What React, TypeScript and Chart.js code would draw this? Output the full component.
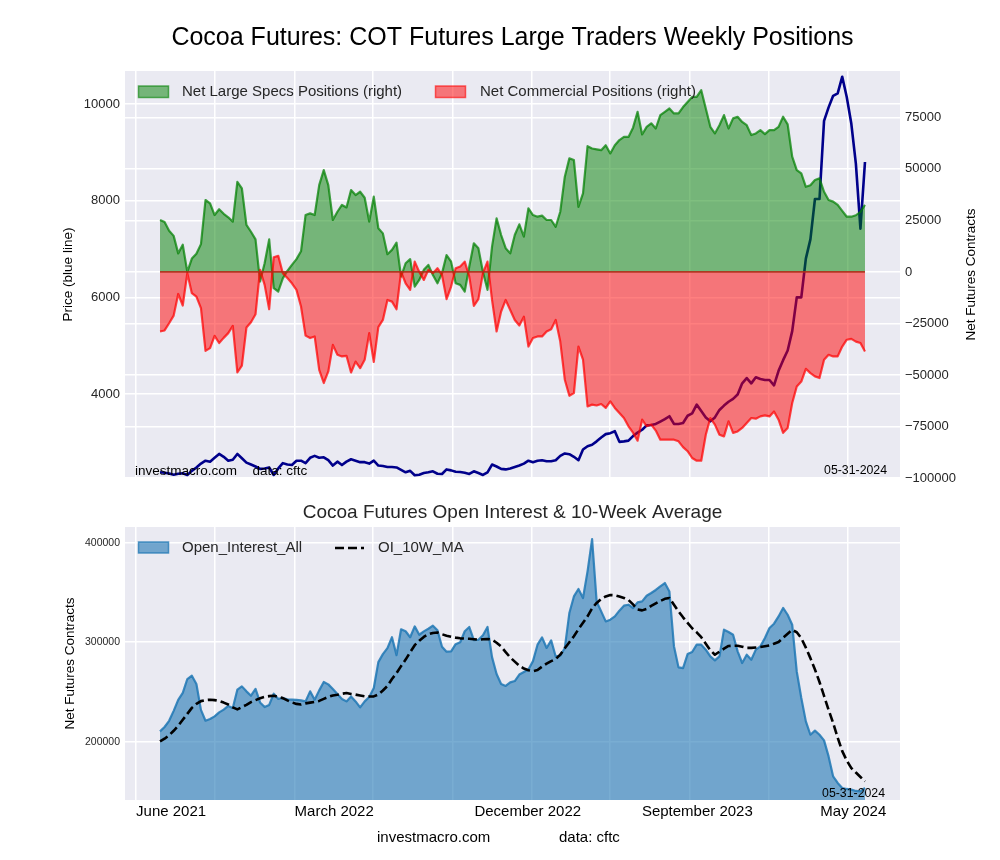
import React, { useEffect, useRef } from "react";
import { Chart, registerables } from "chart.js";

Chart.register(...registerables);

// ---------------- DATA ----------------
const START_DATE = "2021-06-08"; // first weekly report in the window
const REPORT_DATE_LABEL = "05-31-2024";

const LARGE_SPECS = [
  25200, 24200, 20000, 17500, 9000, 13200, 0, 6500, 8800, 13500,
  34900, 33300, 27600, 30400, 28200, 26500, 24400, 43700, 40500, 22800,
  19500, 15800, -4700, 4200, 15800, -7900, -9500, -3100, 500, 3400,
  6200, 10000, 27600, 28400, 27600, 42100, 49400, 42100, 25200, 29200,
  32500, 31300, 39700, 37300, 38900, 36000, 24400, 36500, 21200, 18700,
  8600, 10700, 14200, -2300, 4200, 6200, -7100, -3900, 1000, 3400,
  -1500, -5500, -700, 8200, 5000, -5500, -6300, -9500, 2600,
  13900, 11500, 0, -8700, 12300, 26000, 17900, 11500, 9000, 17900,
  23100, 17100, 30900, 27600, 26800, 27300, 25200, 25200, 21900, 29200,
  46200, 55100, 54300, 31600, 38100, 61000, 59900, 59500, 59100, 61500,
  57500, 61500, 64000, 65500, 65500, 70000, 77700, 66700, 70400, 72100,
  69600, 76100, 77700, 79300, 76900, 76900, 80000, 82500, 84900, 84900,
  88200, 79300, 70400, 67200, 71200, 76100, 69600, 74500, 75300, 72800,
  71200, 66400, 67200, 68800, 66900, 68800, 68800, 70400, 75300, 71600,
  55900, 49400, 47800, 41300, 42100, 44600, 45400, 38900, 34900, 34100,
  32500, 29600, 26800, 26800, 27500, 29200, 32500,
];

const COMMERCIAL = [
  -28900, -28400, -24900, -21200, -10700, -16300, -600, -10300, -12000, -17600,
  -38300, -37000, -31000, -34500, -32000, -29700, -26200, -48800, -45500, -27000,
  -24400, -20500, 1000, -6300, -18100, 7100, 7800, -600, -3000, -5500,
  -8700, -16800, -30900, -32100, -31300, -47500, -53900, -48300, -35400, -40200,
  -41000, -40700, -48800, -43500, -46700, -42600, -29700, -43700, -26800, -23300,
  -13600, -14400, -18100, 0, -5500, -8700, 5000, 0, -3900, 1000,
  -600, 1800, -1500, -13200, -7100, 1800, 2600, 5000, -2300,
  -16500, -13200, -600, 5000, -13600, -28900, -19200, -13600, -18500, -23300,
  -26000, -21700, -36200, -32100, -31300, -31300, -28900, -27800, -23300, -33800,
  -52300, -60100, -58800, -36200, -42600, -65300, -64400, -64800, -64100, -66000,
  -62800, -66000, -68500, -70900, -74900, -78000, -81900, -71700, -74900, -74100,
  -77000, -81400, -81400, -81400, -81400, -82200, -85000, -87000, -90300, -91600,
  -91600, -79000, -70900, -74100, -79000, -79800, -72500, -78100, -77400, -75700,
  -73300, -70900, -71200, -70100, -69600, -70100, -67700, -71700, -78100, -75700,
  -63600, -55600, -53200, -47000, -49100, -50700, -51500, -42600, -40200, -41000,
  -41000, -36200, -32900, -32500, -33800, -34500, -38600,
];

const PRICE = [
  2380, 2370, 2355, 2330, 2350, 2360, 2325, 2410, 2480, 2560,
  2620, 2600, 2680, 2760, 2700, 2620, 2640, 2760, 2670, 2580,
  2540, 2500, 2450, 2460, 2480, 2325, 2460, 2570, 2540, 2530,
  2620, 2620, 2570, 2680, 2720, 2680, 2690, 2630, 2520, 2600,
  2530, 2600, 2650, 2620, 2590, 2590, 2560, 2620, 2520, 2510,
  2490, 2490, 2480, 2430, 2380, 2410, 2320, 2330, 2365, 2380,
  2400, 2350, 2345, 2440, 2420, 2390, 2385, 2370, 2345,
  2400, 2365, 2325, 2380, 2540, 2500, 2450, 2440, 2460, 2490,
  2520, 2560, 2620, 2590, 2620, 2630, 2610, 2610, 2630, 2720,
  2770, 2755, 2700, 2630, 2850, 2920, 2950, 3020, 3100, 3170,
  3190, 3230, 3010, 3020, 3035, 3130, 3200, 3260, 3350, 3360,
  3380, 3430, 3480, 3540, 3380, 3380, 3400, 3550, 3600, 3780,
  3650, 3515, 3435, 3515, 3670, 3760, 3840, 3900, 3990, 4220,
  4330, 4220, 4345, 4310, 4290, 4290, 4180, 4480, 4700, 4900,
  5300, 6000, 6000, 6800, 7200, 8035, 8035, 9650, 9930, 10170,
  10220, 10565, 10140, 9590, 8760, 7420, 8800,
];

const OPEN_INTEREST = [
  210400, 214800, 221000, 231000, 242000, 249000, 263000, 266300, 258000, 232000,
  221100, 222800, 225500, 229500, 232300, 236000, 233900, 252300, 255600, 250600,
  246200, 253000, 239500, 234800, 237000, 248200, 243000, 243900, 242500, 242200,
  242000, 241500, 240500, 250600, 242200, 251600, 260000, 257600, 253000, 248000,
  243000, 240500, 245500, 240500, 234500, 240500, 245000, 254000, 280000, 288000,
  294000, 305000, 287000, 313000, 311000, 305000, 315900, 307500, 310900, 313500,
  316600, 312000, 295500, 290500, 290800, 298000, 300000, 311000, 315300,
  302000, 302500, 307000, 315300, 285000, 268000, 258000, 256000, 259600, 261000,
  267500, 270000, 272500, 281000, 297500, 304800, 294200, 301800, 285700, 286400,
  294200, 329300, 346000, 353500, 344400, 371200, 403700, 341000, 331000, 320900,
  322600, 325900, 331700, 336700, 337700, 334400, 340000, 341000, 346700, 349500,
  352500, 356000, 359500, 351000, 296000, 274700, 274000, 288100, 290200, 297500,
  297500, 292500, 285700, 281700, 285700, 312600, 310300, 307500, 290800, 279100,
  287400, 282400, 292500, 295800, 304200, 314300, 318600, 325900, 334400, 327600,
  317600, 270600, 243900, 220400, 207000, 211100, 207000, 201300, 185200, 165100,
  158500, 153500, 152500, 151800, 150500, 150000, 153500,
];

const OI_10W_MA = [
  200300, 203000, 206500, 211000, 216000, 222000, 228000, 234000, 238000, 240800,
  241800, 242200, 241800, 240800, 239300, 237400, 234500, 232500, 234800, 237000,
  239800, 241800, 243700, 245000, 245800, 246200, 245000, 243800, 241500, 239500,
  238000, 237400, 238500, 239300, 240000, 241000, 243000, 245000, 246500, 247200,
  248200, 248900, 248000, 247300, 246400, 245600, 245500, 245500, 247500, 251500,
  256000, 263000, 269000, 276000, 282500, 290000, 297000, 301500, 305300, 308000,
  309300, 309700, 308000, 306500, 305500, 304600, 303900, 303600, 303500,
  303000, 302500, 303000, 303300, 302600, 299500, 295700, 290000, 284700, 280500,
  276400, 273500, 271800, 270900, 272000, 275500, 278500, 281000, 283000, 287500,
  294000, 300000, 306000, 313000, 319500, 326000, 334000, 339500, 343500, 346000,
  347500, 347200, 346000, 344500, 342500, 338000, 333000, 332000, 333500, 336500,
  339000, 341500, 343600, 344400, 337700, 331000, 325000, 319500, 314000, 310000,
  305000, 298500, 292000, 287400, 290500, 293500, 296200, 296500, 296500, 295500,
  294300, 294300, 294700, 295200, 296000, 296800, 298500, 300200, 304500, 308500,
  312300, 310000, 304000, 294500, 284000, 272500, 260000, 246000, 232000, 218800,
  204000, 190500, 181000, 173500, 169000, 164500, 160100,
];

const PRICE_TICKS = [4000, 6000, 8000, 10000];
const NET_TICKS = [-100000, -75000, -50000, -25000, 0, 25000, 50000, 75000];
const OI_TICKS = [200000, 300000, 400000];
const X_GRID_DATES = [
  "2021-05-01", "2021-09-01", "2022-01-01", "2022-05-01", "2022-09-01",
  "2023-01-01", "2023-05-01", "2023-09-01", "2024-01-01", "2024-05-01",
];
const X_LABEL_DATES = ["2021-06-25", "2022-03-03", "2022-12-26", "2023-09-13", "2024-05-10"];
const X_LABELS = ["June 2021", "March 2022", "December 2022", "September 2023", "May 2024"];

// ---------------- STYLE / LAYOUT ----------------
const FONT = "'Liberation Sans', Arial, Helvetica, sans-serif";
const TEXT = "#262626";
const FACE = "#EAEAF2";
const GRID_W = 1.5;
const X_MIN = -7.7;
const X_MAX = 162.7;

const WEEK_MS = 7 * 24 * 3600 * 1000;
const weekIndex = (d: string) => (Date.parse(d) - Date.parse(START_DATE)) / WEEK_MS;
const X_GRID = X_GRID_DATES.map(weekIndex);
const X_LABEL_POS = X_LABEL_DATES.map(weekIndex);
const pts = (arr: number[]) => arr.map((y, i) => ({ x: i, y }));
const fmt = (v: number) => (v < 0 ? "\u2212" + Math.abs(v) : String(v));

const bgPlugin = {
  id: "bgFace",
  beforeDraw(chart: any) {
    const { ctx, chartArea: a, width, height } = chart;
    ctx.save();
    ctx.fillStyle = "#ffffff";
    ctx.fillRect(0, 0, width, height);
    ctx.fillStyle = FACE;
    ctx.fillRect(a.left, a.top, a.right - a.left, a.bottom - a.top);
    ctx.restore();
  },
};

type Item =
  | { kind: "text"; text: string; x: number; y: number; size: number; align?: CanvasTextAlign; rotate?: number; color?: string }
  | { kind: "patch"; x: number; y: number; w: number; h: number; fill: string; stroke: string }
  | { kind: "dash"; x1: number; x2: number; y: number; color: string; width: number; dash: number[] };

function overlay(items: Item[]) {
  return {
    id: "overlayTexts",
    afterDraw(chart: any) {
      const ctx: CanvasRenderingContext2D = chart.ctx;
      for (const it of items) {
        ctx.save();
        if (it.kind === "text") {
          ctx.font = `${it.size}px ${FONT}`;
          ctx.fillStyle = it.color || TEXT;
          ctx.textAlign = it.align || "left";
          ctx.textBaseline = "middle";
          ctx.translate(it.x, it.y);
          if (it.rotate) ctx.rotate(it.rotate);
          ctx.fillText(it.text, 0, 0);
        } else if (it.kind === "patch") {
          ctx.fillStyle = it.fill;
          ctx.fillRect(it.x, it.y, it.w, it.h);
          ctx.strokeStyle = it.stroke;
          ctx.lineWidth = 1.5;
          ctx.strokeRect(it.x, it.y, it.w, it.h);
        } else {
          ctx.strokeStyle = it.color;
          ctx.lineWidth = it.width;
          ctx.setLineDash(it.dash);
          ctx.beginPath();
          ctx.moveTo(it.x1, it.y);
          ctx.lineTo(it.x2, it.y);
          ctx.stroke();
        }
        ctx.restore();
      }
    },
  };
}

const gridOpts = { color: "#ffffff", lineWidth: GRID_W, drawTicks: false };
const tickFont = (size: number) => ({ family: FONT, size });

function topConfig(): any {
  const n = LARGE_SPECS.length;
  return {
    type: "line",
    data: {
      datasets: [
        {
          label: "zero",
          data: [{ x: 0, y: 0 }, { x: n - 1, y: 0 }],
          yAxisID: "yNet",
          borderColor: "rgba(175,45,25,0.9)",
          borderWidth: 1.8,
          pointRadius: 0,
          fill: false,
        },
        {
          label: "Net Commercial Positions (right)",
          data: pts(COMMERCIAL),
          yAxisID: "yNet",
          borderColor: "rgba(255,0,0,0.72)",
          backgroundColor: "rgba(255,0,0,0.5)",
          borderWidth: 2.2,
          pointRadius: 0,
          fill: "origin",
        },
        {
          label: "Net Large Specs Positions (right)",
          data: pts(LARGE_SPECS),
          yAxisID: "yNet",
          borderColor: "rgba(0,128,0,0.72)",
          backgroundColor: "rgba(0,128,0,0.5)",
          borderWidth: 2.2,
          pointRadius: 0,
          fill: "origin",
        },
        {
          label: "Price",
          data: pts(PRICE),
          yAxisID: "yPrice",
          borderColor: "#00008B",
          borderWidth: 2.6,
          pointRadius: 0,
          fill: false,
        },
      ],
    },
    options: {
      responsive: false,
      maintainAspectRatio: false,
      animation: false,
      devicePixelRatio: 1,
      events: [],
      layout: { padding: { top: 71, bottom: 17, left: 0, right: 0 } },
      elements: { line: { tension: 0, borderJoinStyle: "round" }, point: { radius: 0 } },
      plugins: { legend: { display: false }, tooltip: { enabled: false }, title: { display: false } },
      scales: {
        x: {
          type: "linear",
          min: X_MIN,
          max: X_MAX,
          afterBuildTicks: (s: any) => { s.ticks = X_GRID.map((v) => ({ value: v })); },
          afterFit: (s: any) => { s.height = 0; },
          ticks: { display: false },
          grid: gridOpts,
          border: { display: false },
        },
        yPrice: {
          type: "linear",
          position: "left",
          min: 2262,
          max: 10683,
          afterBuildTicks: (s: any) => { s.ticks = PRICE_TICKS.map((v) => ({ value: v })); },
          afterFit: (s: any) => { s.width = 125; },
          ticks: { font: tickFont(13), color: TEXT, padding: 5, callback: (v: number) => fmt(v) },
          grid: gridOpts,
          border: { display: false },
        },
        yNet: {
          type: "linear",
          position: "right",
          min: -100000,
          max: 97500,
          afterBuildTicks: (s: any) => { s.ticks = NET_TICKS.map((v) => ({ value: v })); },
          afterFit: (s: any) => { s.width = 100; },
          ticks: { font: tickFont(13), color: TEXT, padding: 5, callback: (v: number) => fmt(v) },
          grid: gridOpts,
          border: { display: false },
        },
      },
    },
    plugins: [
      bgPlugin,
      overlay([
        { kind: "text", text: "Cocoa Futures: COT Futures Large Traders Weekly Positions", x: 512.5, y: 38, size: 25, align: "center", color: "#000" },
        { kind: "text", text: "Price (blue line)", x: 68.5, y: 274.5, size: 13.5, align: "center", rotate: -Math.PI / 2, color: "#000" },
        { kind: "text", text: "Net Futures Contracts", x: 971, y: 274.5, size: 13.5, align: "center", rotate: -Math.PI / 2, color: "#000" },
        { kind: "patch", x: 138.5, y: 86, w: 30, h: 11.5, fill: "rgba(0,128,0,0.5)", stroke: "rgba(0,128,0,0.6)" },
        { kind: "text", text: "Net Large Specs Positions (right)", x: 182, y: 92, size: 15 },
        { kind: "patch", x: 435.5, y: 86, w: 30, h: 11.5, fill: "rgba(255,0,0,0.5)", stroke: "rgba(255,0,0,0.6)" },
        { kind: "text", text: "Net Commercial Positions (right)", x: 480, y: 92, size: 15 },
        { kind: "text", text: "investmacro.com", x: 135, y: 471, size: 13.5, color: "#000" },
        { kind: "text", text: "data: cftc", x: 252.5, y: 471, size: 13.5, color: "#000" },
        { kind: "text", text: REPORT_DATE_LABEL, x: 887, y: 471, size: 12.3, align: "right", color: "#000" },
      ]),
    ],
  };
}

function bottomConfig(): any {
  const GRID_N = X_GRID.length;
  return {
    type: "line",
    data: {
      datasets: [
        {
          label: "OI_10W_MA",
          data: pts(OI_10W_MA),
          borderColor: "#000000",
          borderWidth: 2.6,
          borderDash: [9, 4],
          pointRadius: 0,
          fill: false,
        },
        {
          label: "Open_Interest_All",
          data: pts(OPEN_INTEREST),
          borderColor: "rgba(31,119,180,0.85)",
          backgroundColor: "rgba(31,119,180,0.6)",
          borderWidth: 2.2,
          pointRadius: 0,
          fill: "origin",
        },
      ],
    },
    options: {
      responsive: false,
      maintainAspectRatio: false,
      animation: false,
      devicePixelRatio: 1,
      events: [],
      layout: { padding: { top: 32, bottom: 35, left: 0, right: 100 } },
      elements: { line: { tension: 0, borderJoinStyle: "round" }, point: { radius: 0 } },
      plugins: { legend: { display: false }, tooltip: { enabled: false }, title: { display: false } },
      scales: {
        x: {
          type: "linear",
          min: X_MIN,
          max: X_MAX,
          afterBuildTicks: (s: any) => {
            s.ticks = [...X_GRID.map((v) => ({ value: v })), ...X_LABEL_POS.map((v) => ({ value: v }))];
          },
          afterFit: (s: any) => { s.height = 25; },
          ticks: {
            autoSkip: false,
            maxRotation: 0,
            minRotation: 0,
            padding: 3,
            font: tickFont(15),
            color: "#000",
            callback: (_v: number, i: number) => (i >= GRID_N ? X_LABELS[i - GRID_N] : ""),
          },
          grid: {
            drawTicks: false,
            lineWidth: GRID_W,
            color: (c: any) => (c.index < GRID_N ? "#ffffff" : "rgba(0,0,0,0)"),
          },
          border: { display: false },
        },
        y: {
          type: "linear",
          position: "left",
          min: 141400,
          max: 415800,
          afterBuildTicks: (s: any) => { s.ticks = OI_TICKS.map((v) => ({ value: v })); },
          afterFit: (s: any) => { s.width = 125; },
          ticks: { font: tickFont(10.5), color: TEXT, padding: 5, callback: (v: number) => fmt(v) },
          grid: gridOpts,
          border: { display: false },
        },
      },
    },
    plugins: [
      bgPlugin,
      overlay([
        { kind: "text", text: "Cocoa Futures Open Interest & 10-Week Average", x: 512.5, y: 18, size: 19, align: "center" },
        { kind: "text", text: "Net Futures Contracts", x: 70, y: 168.5, size: 13.5, align: "center", rotate: -Math.PI / 2, color: "#000" },
        { kind: "patch", x: 138.5, y: 47, w: 30, h: 11, fill: "rgba(31,119,180,0.6)", stroke: "rgba(31,119,180,0.75)" },
        { kind: "text", text: "Open_Interest_All", x: 182, y: 53, size: 15 },
        { kind: "dash", x1: 335, x2: 364, y: 53, color: "#000", width: 2.6, dash: [9, 4] },
        { kind: "text", text: "OI_10W_MA", x: 378, y: 53, size: 15 },
        { kind: "text", text: REPORT_DATE_LABEL, x: 885, y: 298.5, size: 12.3, align: "right", color: "#000" },
        { kind: "text", text: "investmacro.com", x: 377, y: 343, size: 15, color: "#000" },
        { kind: "text", text: "data: cftc", x: 559, y: 343, size: 15, color: "#000" },
      ]),
    ],
  };
}

export default function App() {
  const topRef = useRef<HTMLCanvasElement>(null);
  const botRef = useRef<HTMLCanvasElement>(null);

  useEffect(() => {
    const top = new Chart(topRef.current as HTMLCanvasElement, topConfig());
    const bot = new Chart(botRef.current as HTMLCanvasElement, bottomConfig());
    return () => {
      top.destroy();
      bot.destroy();
    };
  }, []);

  return (
    <div style={{ position: "absolute", left: 0, top: 0, width: 1000, height: 860, background: "#ffffff" }}>
      <canvas ref={topRef} width={1000} height={495} style={{ display: "block", width: 1000, height: 495 }} />
      <canvas ref={botRef} width={1000} height={365} style={{ display: "block", width: 1000, height: 365 }} />
    </div>
  );
}
